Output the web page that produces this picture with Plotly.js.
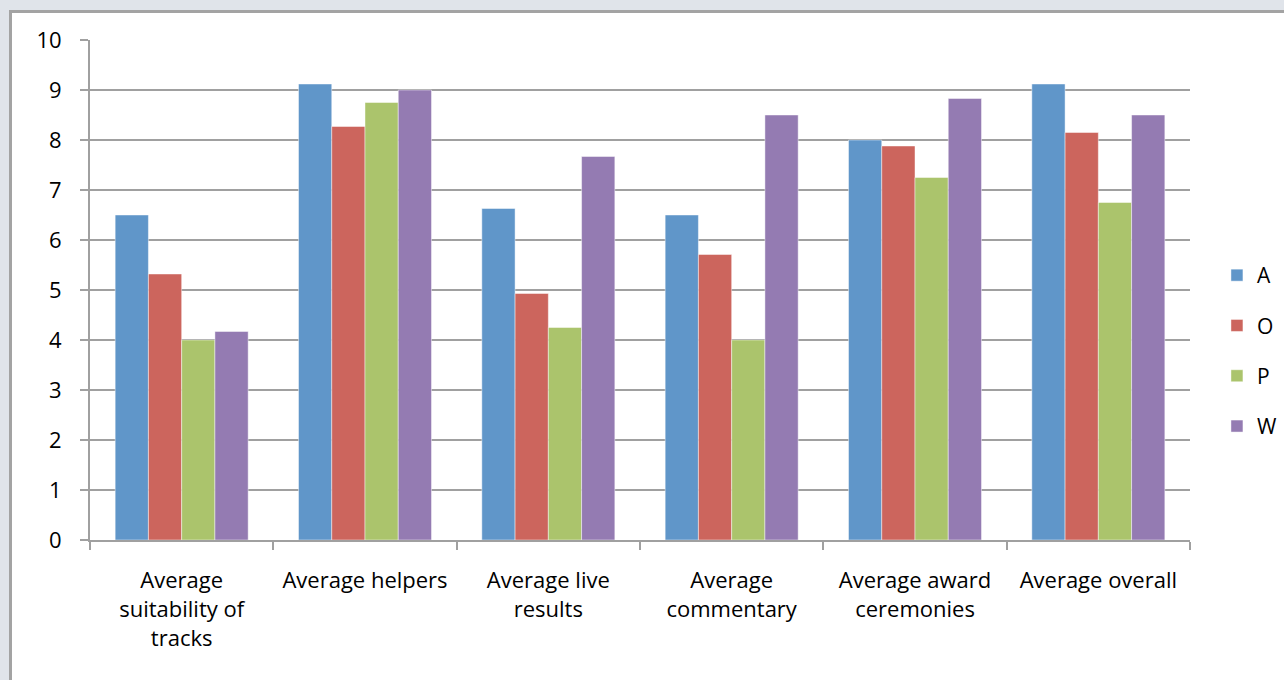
<!DOCTYPE html>
<html>
<head>
<meta charset="utf-8">
<script src="https://cdn.plot.ly/plotly-3.0.1.min.js"></script>
<style>
  html, body { margin: 0; padding: 0; }
  body { width: 1284px; height: 680px; background: #e0e4ea; overflow: hidden; position: relative; }
  #frame { position: absolute; left: 9px; top: 10px; width: 1290px; height: 690px; background: #ffffff; border-left: 3px solid #a3a3a3; border-top: 3px solid #a3a3a3; }
  #chart { position: absolute; left: 12px; top: 13px; width: 1340px; height: 667px; }
</style>
</head>
<body>
<div id="frame"></div>
<div id="chart"></div>
<script>
const categories = [
  "Average<br>suitability of<br>tracks",
  "Average helpers",
  "Average live<br>results",
  "Average<br>commentary",
  "Average award<br>ceremonies",
  "Average overall"
];
const seriesNames = ["A", "O", "P", "W"];
const valuesA = [6.5, 9.12, 6.63, 6.5, 8.0, 9.12];
const valuesO = [5.32, 8.27, 4.93, 5.71, 7.88, 8.15];
const valuesP = [4.0, 8.75, 4.25, 4.0, 7.25, 6.75];
const valuesW = [4.17, 9.0, 7.67, 8.5, 8.83, 8.5];
const yTicks = [0, 1, 2, 3, 4, 5, 6, 7, 8, 9, 10];
const colors = ["#6096c9", "#cc655d", "#abc46c", "#947bb2"];

const allValues = [valuesA, valuesO, valuesP, valuesW];
const data = seriesNames.map((name, i) => ({
  type: "bar",
  name: name,
  legendgroup: name,
  x: categories,
  y: allValues[i],
  marker: { color: colors[i], line: { color: "rgba(255,255,255,0.45)", width: 1 } },
  hoverinfo: "x+y+name"
}));

const layout = {
  width: 1340,
  height: 667,
  margin: { l: 78, r: 162, t: 27, b: 140 },
  paper_bgcolor: "rgba(0,0,0,0)",
  plot_bgcolor: "#ffffff",
  font: { family: "'Open Sans', Lato, sans-serif", size: 21, color: "#000000" },
  barmode: "group",
  bargap: 0.2745,
  bargroupgap: 0,
  showlegend: true,
  legend: {
    x: 1.0245, xanchor: "left",
    y: 0.378, yanchor: "middle",
    traceorder: "grouped",
    tracegroupgap: 20,
    font: { size: 21, color: "#000000" },
    bgcolor: "rgba(0,0,0,0)"
  },
  xaxis: {
    type: "category",
    tickson: "boundaries",
    ticks: "outside",
    ticklen: 8,
    tickwidth: 2,
    tickcolor: "#a0a0a0",
    showline: true,
    linecolor: "#a0a0a0",
    linewidth: 2,
    showgrid: false,
    zeroline: false,
    ticklabelstandoff: 20,
    tickfont: { size: 22 }
  },
  yaxis: {
    range: [0, 10],
    tickvals: yTicks,
    ticktext: yTicks.map(String),
    ticks: "outside",
    ticklen: 8,
    tickwidth: 2,
    tickcolor: "#a0a0a0",
    showline: true,
    linecolor: "#a0a0a0",
    linewidth: 2,
    showgrid: true,
    gridcolor: "#a0a0a0",
    gridwidth: 2,
    zeroline: false,
    ticklabelstandoff: 14,
    tickfont: { size: 22 }
  }
};

Plotly.newPlot("chart", data, layout, { displayModeBar: false, staticPlot: true });
</script>
</body>
</html>
